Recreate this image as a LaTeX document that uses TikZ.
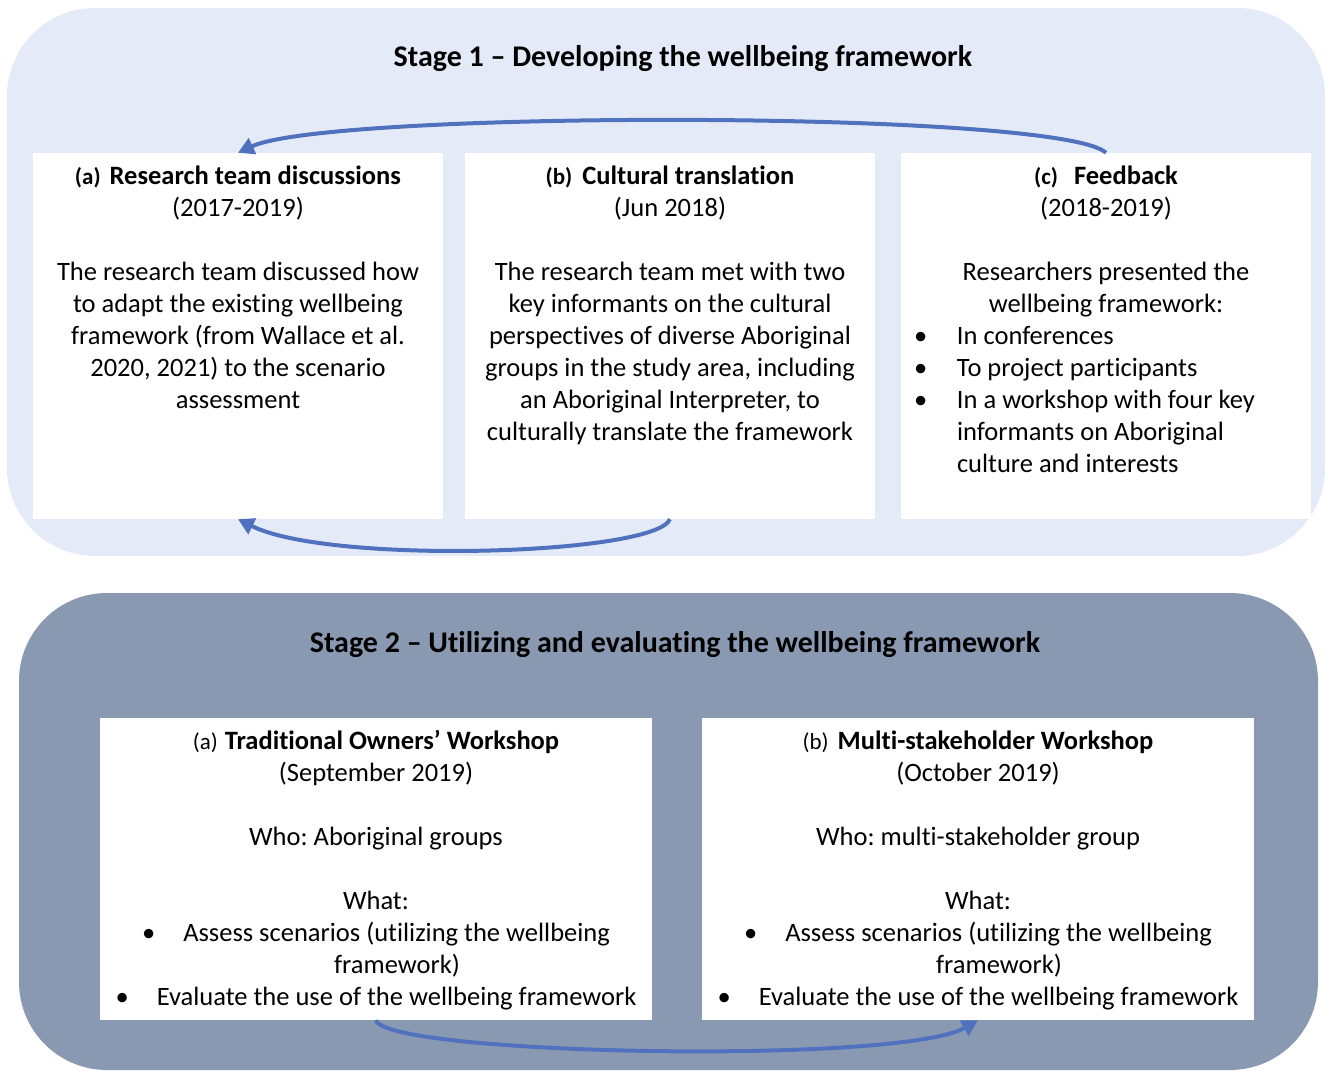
\documentclass[tikz,border=0pt]{standalone}
\usepackage{fontspec}
\setmainfont{Carlito}[Ligatures=NoCommon]
\usepackage{xcolor}
\usepackage{tikz}
\usetikzlibrary{arrows.meta, positioning}

\definecolor{stageonebg}{RGB}{229,234,248}
\definecolor{stagetwobg}{RGB}{138,153,178}
\definecolor{loopblue}{RGB}{80,114,190}

\newcommand{\lbl}[1]{{\fontsize{23}{32}\selectfont\bfseries #1}}
\newcommand{\lblr}[1]{{\fontsize{23}{32}\selectfont #1}}
\newcommand{\bul}{\textbullet\hspace{28pt}}
\frenchspacing

\begin{document}
\begin{tikzpicture}[x=1pt, y=-1pt,
    stage/.style={rectangle, rounded corners=88pt, inner sep=0pt},
    box/.style={rectangle, fill=white, inner sep=0pt},
    title/.style={font=\fontsize{30}{32}\selectfont\bfseries, inner sep=0pt, anchor=base},
    txt/.style={font=\fontsize{26.5}{32}\selectfont, align=center, inner sep=0pt, anchor=north},
    arrow/.style={loopblue, line width=4pt, -{Triangle[length=16pt, width=17pt]}}
  ]
  \useasboundingbox (0,0) rectangle (1326,1071);

  % stage backgrounds
  \node[stage, fill=stageonebg, minimum width=1318pt, minimum height=548pt] (s1) at (666,282) {};
  \node[stage, fill=stagetwobg, minimum width=1299pt, minimum height=477pt] (s2) at (668.5,831.5) {};

  \node[title] (t1) at (683,66) {Stage 1 – Developing the wellbeing framework};
  \node[title] (t2) at (675,652) {Stage 2 – Utilizing and evaluating the wellbeing framework};

  % stage 1 boxes
  \node[box, minimum width=410pt, minimum height=366pt] (disc) at (238,336) {};
  \node[box, minimum width=410pt, minimum height=366pt] (transl) at (670,336) {};
  \node[box, minimum width=410pt, minimum height=366pt] (feedb) at (1106,336) {};

  \node[txt] (disc-txt) at (238,161.6) {\strut\lbl{(a)}\hspace{9pt}\textbf{Research team discussions}\\(2017-2019)\\[32pt]
    The research team discussed how\\to adapt the existing wellbeing\\framework (from Wallace et al.\\2020, 2021) to the scenario\\assessment};
  \node[txt] (transl-txt) at (670,161.6) {\strut\lbl{(b)}\hspace{10pt}\textbf{Cultural translation}\\(Jun 2018)\\[32pt]
    The research team met with two\\key informants on the cultural\\perspectives of diverse Aboriginal\\groups in the study area, including\\an Aboriginal Interpreter, to\\culturally translate the framework};
  \node[txt] (feedb-txt) at (1106,161.6) {\strut\lbl{(c)}\hspace{16pt}\textbf{Feedback}\\(2018-2019)\\[32pt]
    Researchers presented the\\wellbeing framework:\\
    \makebox[384pt][l]{\begin{tabular}[t]{@{}p{43pt}@{}l@{}}
      \textbullet & In conferences\\
      \textbullet & To project participants\\
      \textbullet & In a workshop with four key\\
      & informants on Aboriginal\\
      & culture and interests
    \end{tabular}}};

  % stage 2 boxes
  \node[box, minimum width=552pt, minimum height=302pt] (tow) at (376,869) {};
  \node[box, minimum width=552pt, minimum height=302pt] (msw) at (978,869) {};

  \node[txt] (tow-txt) at (376,726.6) {\strut\lblr{(a)}\hspace{7pt}\textbf{Traditional Owners’ Workshop}\\(September 2019)\\[32pt]
    Who: Aboriginal groups\\[32pt]What:\\\bul Assess scenarios (utilizing the wellbeing\\\hspace*{42pt}framework)\\\bul Evaluate the use of the wellbeing framework};
  \node[txt] (msw-txt) at (978,726.6) {\strut\lblr{(b)}\hspace{9pt}\textbf{Multi-stakeholder Workshop}\\(October 2019)\\[32pt]
    Who: multi-stakeholder group\\[32pt]What:\\\bul Assess scenarios (utilizing the wellbeing\\\hspace*{42pt}framework)\\\bul Evaluate the use of the wellbeing framework};

  % loops
  \draw[arrow] (feedb.north) .. controls (1060,110) and (330,110) .. (disc.north);
  \draw[arrow] (transl.south) .. controls (655,555) and (330,565) .. (disc.south);
  \draw[arrow] (tow.south) .. controls (385,1055) and (900,1065) .. (msw.south);
\end{tikzpicture}
\end{document}
